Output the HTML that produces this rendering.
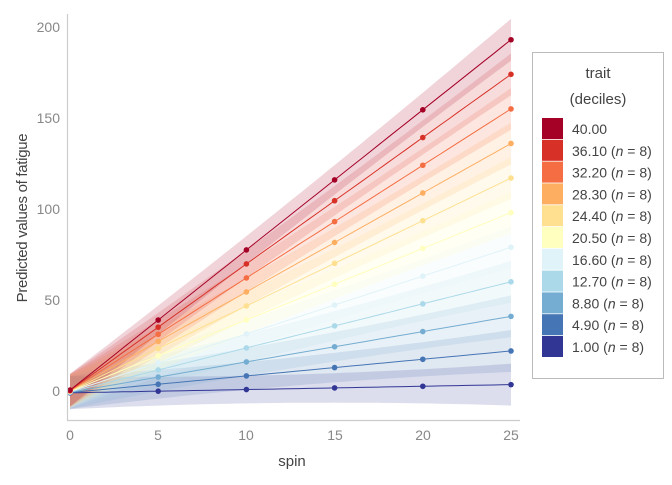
<!DOCTYPE html>
<html><head><style>
body{margin:0;background:#fff;font-family:"Liberation Sans",sans-serif}
</style></head><body>
<svg width="672" height="480" xmlns="http://www.w3.org/2000/svg" font-family="Liberation Sans, sans-serif">
<rect width="672" height="480" fill="#fff"/>
<g id="plot"></g>
<line x1="67.5" y1="14" x2="67.5" y2="420" stroke="#ccc" stroke-width="1.2"/>
<line x1="67" y1="420.5" x2="520" y2="420.5" stroke="#ccc" stroke-width="1.2"/>
<g fill="#888" font-size="14" text-anchor="end">
<text x="60" y="396">0</text><text x="60" y="305">50</text><text x="60" y="214">100</text><text x="60" y="123">150</text><text x="60" y="32">200</text>
</g>
<g fill="#888" font-size="14" text-anchor="middle">
<text x="70" y="440">0</text><text x="158" y="440">5</text><text x="246" y="440">10</text><text x="335" y="440">15</text><text x="423" y="440">20</text><text x="511" y="440">25</text>
</g>
<text x="292" y="466" font-size="15" fill="#444" text-anchor="middle">spin</text>
<text transform="translate(27,218) rotate(-90)" font-size="15" fill="#444" text-anchor="middle" letter-spacing="-0.3">Predicted values of fatigue</text>
<rect x="532.5" y="52.5" width="131" height="326" fill="#fff" stroke="#bbb"/>
<text x="598" y="78" font-size="15" fill="#444" text-anchor="middle">trait</text>
<text x="598" y="104" font-size="15" fill="#444" text-anchor="middle">(deciles)</text>
<g id="leg" font-size="14" fill="#444"></g>
</svg>
<script>
var cols=["#a50026","#d73027","#f46d43","#fdae61","#fee090","#ffffbf","#e0f3f8","#abd9e9","#74add1","#4575b4","#313695"];
var ends=[193,174,155,136,117,98,79,60,41,22,3.5];
var labs=["40.00","36.10","32.20","28.30","24.40","20.50","16.60","12.70","8.80","4.90","1.00"];
function X(x){return 70+x*17.64}function Y(v){return 391-v*1.82}
var g=document.getElementById('plot');
var bands="",lines="",pts="";
for(var i=10;i>=0;i--){
 var a=0.5-1.5*i/10,b=ends[i];
 var up=[],dn=[],ln=[];
 for(var x=0;x<=25;x+=0.5){var v=a+(b-a)*x/25,h=9-0.3*x+0.016*x*x;
  up.push(X(x).toFixed(1)+","+Y(v+h).toFixed(1));dn.unshift(X(x).toFixed(1)+","+Y(v-h).toFixed(1));ln.push(X(x).toFixed(1)+","+Y(v).toFixed(1));}
 bands+='<polygon points="'+up.join(" ")+" "+dn.join(" ")+'" fill="'+cols[i]+'" fill-opacity="0.17"/>';
 lines+='<polyline points="'+ln.join(" ")+'" fill="none" stroke="'+cols[i]+'" stroke-width="1"/>';
 for(var k=0;k<=5;k++){var xx=k*5,vv=a+(b-a)*xx/25;pts+='<circle cx="'+X(xx)+'" cy="'+Y(vv)+'" r="2.8" fill="'+cols[i]+'"/>';}
}
g.innerHTML=bands+lines+pts;
var L="";
for(var i=0;i<11;i++){var y=118+i*21.8;
 L+='<rect x="542" y="'+y+'" width="21" height="21" fill="'+cols[i]+'"/>';
 L+='<text x="572" y="'+(y+16)+'">'+labs[i]+(i?' (<tspan font-style="italic">n</tspan> = 8)':'')+'</text>';}
document.getElementById('leg').innerHTML=L;
</script>
</body></html>
